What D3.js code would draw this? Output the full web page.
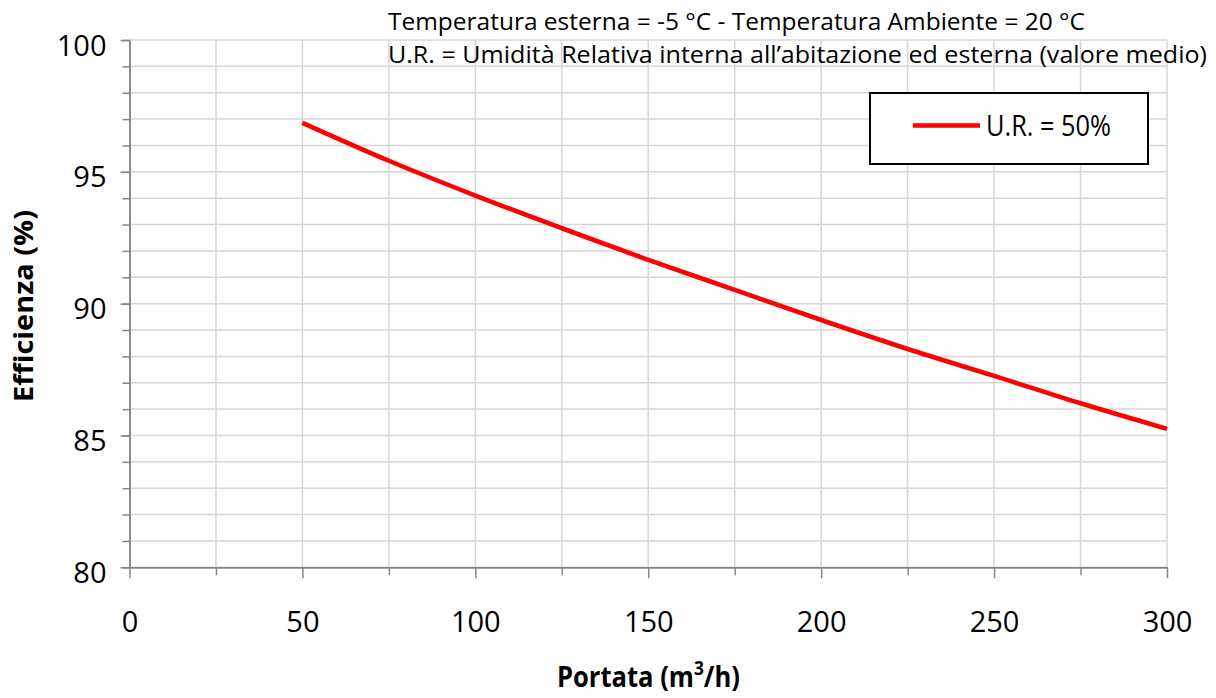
<!DOCTYPE html>
<html>
<head>
<meta charset="utf-8">
<script src="https://cdn.jsdelivr.net/npm/d3@7"></script>
<style>
  html, body { margin: 0; padding: 0; background: #fff; }
  svg { display: block; }
  text { font-family: "Open Sans", "Noto Sans", sans-serif; fill: #000; }
</style>
</head>
<body>
<svg id="chart" width="1216" height="698"></svg>
<script>
// ---- data ----
const portata = [50, 75, 100, 125, 150, 175, 200, 225, 250, 275, 300];
const efficienza = [96.86, 95.42, 94.10, 92.86, 91.66, 90.52, 89.38, 88.28, 87.26, 86.22, 85.25];
const seriesName = "U.R. = 50%";
const xMajorTicks = [0, 50, 100, 150, 200, 250, 300];
const xMinorTicks = [25, 75, 125, 175, 225, 275];
const yMajorTicks = [80, 85, 90, 95, 100];
const yMinorTicks = d3.range(80, 101, 1);
const titleLines = [
  "Temperatura esterna = -5 °C - Temperatura Ambiente = 20 °C",
  "U.R. = Umidità Relativa interna all’abitazione ed esterna (valore medio)"
];
const yLabel = "Efficienza (%)";

// ---- layout ----
const svg = d3.select("#chart");
const x = d3.scaleLinear().domain([0, 300]).range([129.5, 1167]);
const y = d3.scaleLinear().domain([80, 100]).range([567.3, 40]);
const gridColor = "#d6d6d6";
const axisColor = "#868686";

// grid
const grid = svg.append("g");
grid.selectAll("line.h").data(yMinorTicks).join("line")
  .attr("x1", x(0)).attr("x2", x(300))
  .attr("y1", d => y(d)).attr("y2", d => y(d))
  .attr("stroke", gridColor).attr("stroke-width", 1.5);
grid.selectAll("line.v").data(xMajorTicks.concat(xMinorTicks).filter(d => d > 0)).join("line")
  .attr("x1", d => x(d)).attr("x2", d => x(d))
  .attr("y1", y(100)).attr("y2", y(80))
  .attr("stroke", gridColor).attr("stroke-width", 1.5);

function styleAxis(g) {
  g.select(".domain").attr("stroke", axisColor).attr("stroke-width", 1.5);
  g.selectAll(".tick line").attr("stroke", axisColor).attr("stroke-width", 1.5);
}

// y minor ticks
svg.append("g").attr("transform", `translate(${x(0)},0)`)
  .call(d3.axisLeft(y).tickValues(yMinorTicks).tickSize(7).tickSizeOuter(0).tickFormat(""))
  .call(styleAxis);
// y major ticks + labels
const yAxis = svg.append("g").attr("transform", `translate(${x(0)},0)`)
  .call(d3.axisLeft(y).tickValues(yMajorTicks).tickSize(9).tickSizeOuter(0).tickPadding(14).tickFormat(d3.format("d")))
  .call(styleAxis);
yAxis.selectAll("text").attr("dy", "0.52em")
  .style("font-size", "29px").style("font-family", "'Open Sans', sans-serif").attr("fill", "#000");

// x minor ticks
svg.append("g").attr("transform", `translate(0,${y(80)})`)
  .call(d3.axisBottom(x).tickValues(xMinorTicks).tickSize(8).tickSizeOuter(0).tickFormat(""))
  .call(styleAxis);
const xAxis = svg.append("g").attr("transform", `translate(0,${y(80)})`)
  .call(d3.axisBottom(x).tickValues(xMajorTicks).tickSize(11).tickSizeOuter(0).tickPadding(33).tickFormat(d3.format("d")))
  .call(styleAxis);
xAxis.selectAll("text")
  .style("font-size", "29px").style("font-family", "'Open Sans', sans-serif").attr("fill", "#000");

// line
const line = d3.line().x(d => x(d[0])).y(d => y(d[1])).curve(d3.curveMonotoneX);
svg.append("path")
  .datum(portata.map((p, i) => [p, efficienza[i]]))
  .attr("d", line)
  .attr("fill", "none").attr("stroke", "#ff0000").attr("stroke-width", 4.6)
  .attr("stroke-linejoin", "round");

// titles
svg.append("text").attr("x", 388).attr("y", 30).style("font-size", "23px")
  .attr("textLength", 697).attr("lengthAdjust", "spacingAndGlyphs").text(titleLines[0]);
svg.append("text").attr("x", 388).attr("y", 63).style("font-size", "23px")
  .attr("textLength", 819).attr("lengthAdjust", "spacingAndGlyphs").text(titleLines[1]);

// legend
const leg = svg.append("g");
leg.append("rect").attr("x", 870).attr("y", 93).attr("width", 278).attr("height", 71)
  .attr("fill", "#fff").attr("stroke", "#000").attr("stroke-width", 2);
leg.append("line").attr("x1", 913).attr("x2", 980).attr("y1", 125.5).attr("y2", 125.5)
  .attr("stroke", "#ff0000").attr("stroke-width", 4.6);
leg.append("text").attr("x", 986).attr("y", 136).style("font-size", "29px")
  .attr("textLength", 125).attr("lengthAdjust", "spacingAndGlyphs").text(seriesName);

// y label
svg.append("text")
  .attr("transform", "translate(33,306) rotate(-90)")
  .attr("text-anchor", "middle")
  .style("font-size", "27px").style("font-weight", "bold")
  .attr("textLength", 192).attr("lengthAdjust", "spacingAndGlyphs")
  .text(yLabel);

// x label with superscript, scaled to width
const xl = svg.append("text").attr("x", 0).attr("y", 0)
  .style("font-size", "28px").style("font-weight", "bold");
xl.append("tspan").text("Portata (m");
xl.append("tspan").attr("dy", -12).style("font-size", "19px").text("3");
xl.append("tspan").attr("dy", 12).text("/h)");
const w = xl.node().getComputedTextLength();
const targetW = 183, cx = 648.5, base = 687;
xl.attr("transform", `translate(${cx - targetW / 2},${base}) scale(${targetW / w},1)`);
</script>
</body>
</html>
